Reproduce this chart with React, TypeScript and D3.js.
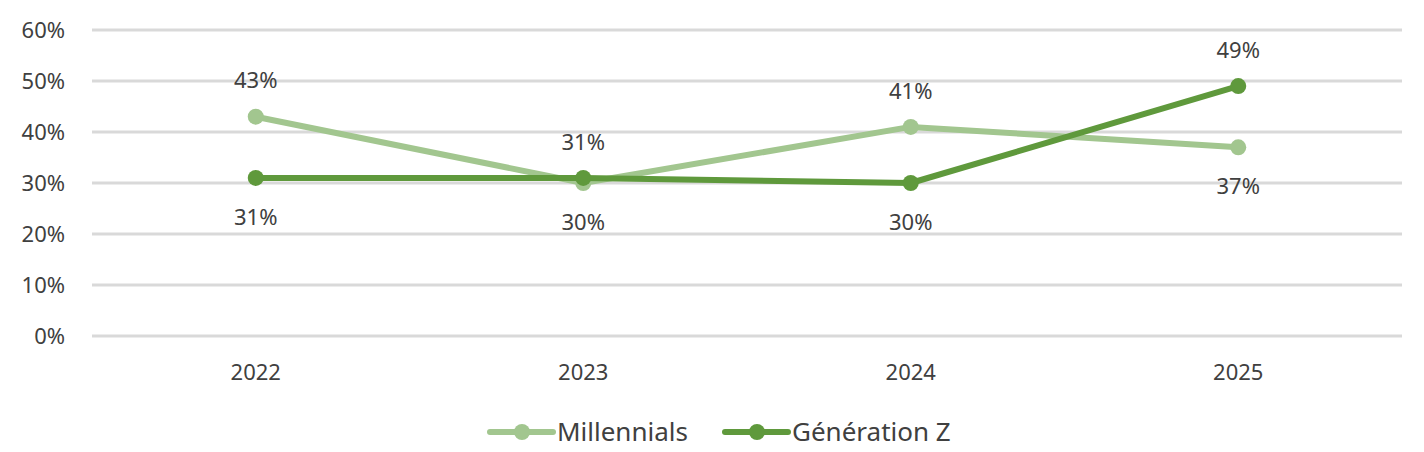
import { useEffect, useRef } from "react";
import * as d3 from "d3";

const years = ["2022", "2023", "2024", "2025"];
const millennials = [43, 30, 41, 37];
const generationZ = [31, 31, 30, 49];
// label placement per point: "above" or "below"
const millennialsLabelPos = ["above", "below", "above", "below"];
const generationZLabelPos = ["below", "above", "below", "above"];
const yTicks = [0, 10, 20, 30, 40, 50, 60];

const seriesList = [
  { name: "Millennials", values: millennials, pos: millennialsLabelPos, color: "#a2c68f" },
  { name: "Génération Z", values: generationZ, pos: generationZLabelPos, color: "#5f993c" },
];

export default function App() {
  const svgRef = useRef<SVGSVGElement>(null);

  useEffect(() => {
    if (!svgRef.current) return;
    const width = 1424;
    const height = 452;
    const margin = { top: 30, right: 22, bottom: 116, left: 92 };
    const innerWidth = width - margin.left - margin.right;
    const innerHeight = height - margin.top - margin.bottom;
    const font = "'Noto Sans', 'Open Sans', sans-serif";
    const textColor = "#404040";

    d3.select(svgRef.current).selectAll("*").remove();
    const svg = d3.select(svgRef.current).attr("width", width).attr("height", height);
    svg.append("rect").attr("width", width).attr("height", height).attr("fill", "#fff");

    const g = svg.append("g").attr("transform", `translate(${margin.left},${margin.top})`);

    const x = d3.scaleBand<string>().domain(years).range([0, innerWidth]);
    const y = d3.scaleLinear().domain([0, 60]).range([innerHeight, 0]);
    const cx = (d: string) => (x(d) as number) + x.bandwidth() / 2;

    // Gridlines
    g.append("g")
      .selectAll("line")
      .data(yTicks)
      .join("line")
      .attr("x1", 0)
      .attr("x2", innerWidth)
      .attr("y1", (d) => y(d))
      .attr("y2", (d) => y(d))
      .attr("stroke", "#d9d9d9")
      .attr("stroke-width", 3);

    // Y labels
    g.append("g")
      .selectAll("text")
      .data(yTicks)
      .join("text")
      .attr("x", -27)
      .attr("y", (d) => y(d))
      .attr("dy", "0.35em")
      .attr("text-anchor", "end")
      .attr("font-family", font)
      .attr("font-size", 22)
      .attr("fill", textColor)
      .text((d) => `${d}%`);

    // X labels
    g.append("g")
      .selectAll("text")
      .data(years)
      .join("text")
      .attr("x", (d) => cx(d))
      .attr("y", innerHeight + 36)
      .attr("dy", "0.35em")
      .attr("text-anchor", "middle")
      .attr("font-family", font)
      .attr("font-size", 22)
      .attr("fill", textColor)
      .text((d) => d);

    const line = d3
      .line<number>()
      .x((_, i) => cx(years[i]))
      .y((d) => y(d));

    seriesList.forEach((s) => {
      g.append("path")
        .datum(s.values)
        .attr("d", line)
        .attr("fill", "none")
        .attr("stroke", s.color)
        .attr("stroke-width", 6)
        .attr("stroke-linejoin", "round");
      g.append("g")
        .selectAll("circle")
        .data(s.values)
        .join("circle")
        .attr("cx", (_, i) => cx(years[i]))
        .attr("cy", (d) => y(d))
        .attr("r", 8)
        .attr("fill", s.color);
    });

    seriesList.forEach((s) => {
      g.append("g")
        .selectAll("text")
        .data(s.values)
        .join("text")
        .attr("x", (_, i) => cx(years[i]))
        .attr("y", (d, i) => y(d) + (s.pos[i] === "above" ? -36 : 39))
        .attr("dy", "0.35em")
        .attr("text-anchor", "middle")
        .attr("font-family", font)
        .attr("font-size", 22)
        .attr("fill", textColor)
        .text((d) => `${d}%`);
    });

    // Legend
    const legendY = 432;
    const legendX = [490, 725];
    seriesList.forEach((s, i) => {
      const lg = svg.append("g").attr("transform", `translate(${legendX[i]},${legendY})`);
      lg.append("line")
        .attr("x1", 0)
        .attr("x2", 63)
        .attr("stroke", s.color)
        .attr("stroke-width", 6)
        .attr("stroke-linecap", "round");
      lg.append("circle").attr("cx", 32).attr("r", 8).attr("fill", s.color);
      lg.append("text")
        .attr("x", 67)
        .attr("dy", "0.35em")
        .attr("font-family", font)
        .attr("font-size", 26)
        .attr("fill", textColor)
        .text(s.name);
    });
  }, []);

  return <svg ref={svgRef} style={{ position: "absolute", top: 0, left: 0, display: "block" }} />;
}
